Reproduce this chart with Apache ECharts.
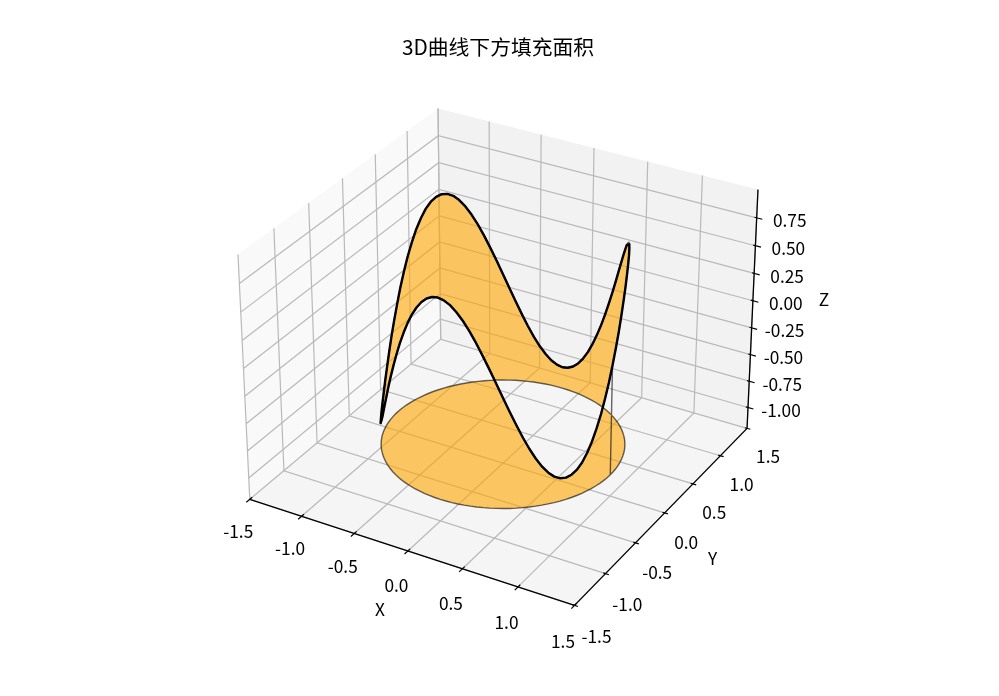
<!DOCTYPE html>
<html>
<head>
<meta charset="utf-8">
<style>html,body{margin:0;padding:0;background:#fff}#c{width:999px;height:696px}</style>
<script src="https://cdn.jsdelivr.net/npm/echarts@6/dist/echarts.min.js"></script>
</head>
<body>
<div id="c"></div>
<script>
const titleText = '3D曲线下方填充面积';
const xTicks = [-1.5,-1.0,-0.5,0.0,0.5,1.0,1.5];
const yTicks = [-1.5,-1.0,-0.5,0.0,0.5,1.0,1.5];
const zTicks = [-1.0,-0.75,-0.5,-0.25,0.0,0.25,0.5,0.75];
const xLim = [-1.5,1.5];
const yLim = [-1.5,1.5];
const zLim = [-1.2,1.0];
const floorZ = -1;
const curveX = [1,.999,.995,.988,.978,.966,.951,.934,.914,.891,.866,.839,.809,.777,.743,.707,.669,.629,.588,.545,.5,.454,.407,.358,.309,.259,.208,.156,.105,.052,0,
-.052,-.105,-.156,-.208,-.259,-.309,-.358,-.407,-.454,-.5,-.545,-.588,-.629,-.669,-.707,-.743,-.777,-.809,-.839,-.866,-.891,-.914,-.934,-.951,-.966,-.978,-.988,-.995,-.999,-1,
-.999,-.995,-.988,-.978,-.966,-.951,-.934,-.914,-.891,-.866,-.839,-.809,-.777,-.743,-.707,-.669,-.629,-.588,-.545,-.5,-.454,-.407,-.358,-.309,-.259,-.208,-.156,-.105,-.052,0,
.052,.105,.156,.208,.259,.309,.358,.407,.454,.5,.545,.588,.629,.669,.707,.743,.777,.809,.839,.866,.891,.914,.934,.951,.966,.978,.988,.995,.999,1];
const curveY = [0,.052,.105,.156,.208,.259,.309,.358,.407,.454,.5,.545,.588,.629,.669,.707,.743,.777,.809,.839,.866,.891,.914,.934,.951,.966,.978,.988,.995,.999,1,
.999,.995,.988,.978,.966,.951,.934,.914,.891,.866,.839,.809,.777,.743,.707,.669,.629,.588,.545,.5,.454,.407,.358,.309,.259,.208,.156,.105,.052,0,
-.052,-.105,-.156,-.208,-.259,-.309,-.358,-.407,-.454,-.5,-.545,-.588,-.629,-.669,-.707,-.743,-.777,-.809,-.839,-.866,-.891,-.914,-.934,-.951,-.966,-.978,-.988,-.995,-.999,-1,
-.999,-.995,-.988,-.978,-.966,-.951,-.934,-.914,-.891,-.866,-.839,-.809,-.777,-.743,-.707,-.669,-.629,-.588,-.545,-.5,-.454,-.407,-.358,-.309,-.259,-.208,-.156,-.105,-.052,0];
const curveZ = [0,.125,.247,.363,.47,.566,.647,.713,.761,.79,.8,.79,.761,.713,.647,.566,.47,.363,.247,.125,0,-.125,-.247,-.363,-.47,-.566,-.647,-.713,-.761,-.79,-.8,-.79,-.761,-.713,-.647,-.566,-.47,-.363,-.247,-.125,
0,.125,.247,.363,.47,.566,.647,.713,.761,.79,.8,.79,.761,.713,.647,.566,.47,.363,.247,.125,0,-.125,-.247,-.363,-.47,-.566,-.647,-.713,-.761,-.79,-.8,-.79,-.761,-.713,-.647,-.566,-.47,-.363,-.247,-.125,
0,.125,.247,.363,.47,.566,.647,.713,.761,.79,.8,.79,.761,.713,.647,.566,.47,.363,.247,.125,0,-.125,-.247,-.363,-.47,-.566,-.647,-.713,-.761,-.79,-.8,-.79,-.761,-.713,-.647,-.566,-.47,-.363,-.247,-.125,0];

// 3D view: elevation 30, azimuth -60, box 4:4:3, eye distance 10
const box = [1.1905,1.1905,0.8929], dist = 10;
const U = [0.866025,0.5,0], V = [-0.25,0.433013,0.866025], W = [0.433013,-0.75,0.5];
const dot = (a,b)=>a[0]*b[0]+a[1]*b[1]+a[2]*b[2];
function project(x,y,z){
  const q = [
    ((x-xLim[0])/(xLim[1]-xLim[0])-0.5)*box[0],
    ((y-yLim[0])/(yLim[1]-yLim[0])-0.5)*box[1],
    ((z-zLim[0])/(zLim[1]-zLim[0])-0.5)*box[2]
  ];
  const d = dist - dot(W,q);
  return [dot(U,q)/d, dot(V,q)/d];
}
const P = (x,y,z)=>project(x,y,z);

// view window of the flat axes
const scale = 3125, cx = 503, cy = 345, W_PX = 999, H_PX = 696;
const uMin = -cx/scale, uMax = (W_PX-cx)/scale, vMin = -(H_PX-cy)/scale, vMax = cy/scale;

const x0=xLim[0],x1=xLim[1],y0=yLim[0],y1=yLim[1],z0=zLim[0],z1=zLim[1];

const panes = [
  {pts:[P(x0,y0,z0),P(x0,y1,z0),P(x0,y1,z1),P(x0,y0,z1)], color:'#f9f9f9'},
  {pts:[P(x0,y1,z0),P(x1,y1,z0),P(x1,y1,z1),P(x0,y1,z1)], color:'#f2f2f2'},
  {pts:[P(x0,y0,z0),P(x1,y0,z0),P(x1,y1,z0),P(x0,y1,z0)], color:'#f5f5f5'}
];
const gridPaths = [
  ...xTicks.map(t=>[P(t,y0,z0),P(t,y1,z0),P(t,y1,z1)]),
  ...yTicks.map(t=>[P(x1,t,z0),P(x0,t,z0),P(x0,t,z1)]),
  ...zTicks.map(t=>[P(x1,y1,t),P(x0,y1,t),P(x0,y0,t)])
];
const axisPaths = [
  [P(x0,y0,z0),P(x1,y0,z0)],
  [P(x1,y0,z0),P(x1,y1,z0)],
  [P(x1,y1,z0),P(x1,y1,z1)]
];
const tickPaths = [
  ...xTicks.map(t=>[P(t,y0+0.035,z0),P(t,y0-0.05,z0)]),
  ...yTicks.map(t=>[P(x1-0.02,t,z0),P(x1+0.03,t,z0)]),
  ...zTicks.map(t=>[P(x1-0.02,y1,t),P(x1+0.05,y1,t)])
];
const fmt1 = t=>t.toFixed(1), fmt2 = t=>t.toFixed(2);
const labels = [
  ...xTicks.map((t,i)=>({p:P(t,y0,z0), s:fmt1(t), dx:-11.5, dy:32+4*i/6})),
  ...yTicks.map((t,i)=>({p:P(x1,t,z0), s:fmt1(t), dx:22-i/6, dy:31-3*i/6})),
  ...zTicks.map(t=>({p:P(x1,y1,t), s:fmt2(t), dx:33, dy:3})),
  {p:P(0,y0,z0), s:'X', dx:-28, dy:58},
  {p:P(x1,0,z0), s:'Y', dx:48, dy:46},
  {p:P(x1,y1,0), s:'Z', dx:71, dy:-1}
];

const curvePts = curveX.map((x,i)=>P(x,curveY[i],curveZ[i]));
const floorPts = curveX.map((x,i)=>P(x,curveY[i],floorZ)).reverse();
const ribbon = curvePts.concat(floorPts);

function pathSeries(name, paths, style, z, closed){
  return {
    type:'custom', name, coordinateSystem:'cartesian2d', silent:true, z, clip:false,
    data: paths.map((_,i)=>[0,0,i]),
    dimensions:['u','v','idx'],
    encode:{x:0,y:1},
    renderItem(params, api){
      const item = paths[api.value(2)];
      const pts = (item.pts||item).map(p=>api.coord(p));
      const st = Object.assign({}, style, item.color?{fill:item.color}:{});
      return {type: closed?'polygon':'polyline', shape:{points:pts}, style:st};
    }
  };
}

const chart = echarts.init(document.getElementById('c'), null, {renderer:'canvas'});
chart.setOption({
  animation:false,
  backgroundColor:'#ffffff',
  title:{text:titleText,left:493,top:32,textAlign:'center',
    textStyle:{fontFamily:'"Noto Sans CJK SC","Noto Sans",sans-serif',fontSize:20.8,fontWeight:'normal',color:'#000'}},
  grid:{left:0,top:0,width:W_PX,height:H_PX,containLabel:false},
  xAxis:{type:'value',min:uMin,max:uMax,show:false},
  yAxis:{type:'value',min:vMin,max:vMax,show:false},
  series:[
    pathSeries('panes',panes,{stroke:'none',fill:'#f5f5f5'},1,true),
    pathSeries('grid',gridPaths,{stroke:'#b9b9b9',lineWidth:1.2,fill:'none'},2,false),
    pathSeries('axes',axisPaths,{stroke:'#000',lineWidth:1.3,fill:'none'},3,false),
    pathSeries('ticks',tickPaths,{stroke:'#000',lineWidth:1.2,fill:'none'},3,false),
    pathSeries('ribbon',[ribbon],{fill:'rgba(255,165,0,0.6)',stroke:'rgba(0,0,0,0.6)',lineWidth:1.4},4,true),
    {type:'line',name:'curve',data:curvePts,showSymbol:false,symbol:'none',clip:false,silent:true,z:5,
      lineStyle:{color:'#000',width:2.4,join:'round'}},
    {type:'custom',name:'labels',coordinateSystem:'cartesian2d',silent:true,z:6,clip:false,
      data:labels.map((_,i)=>[0,0,i]),
      dimensions:['u','v','idx'],
      encode:{x:0,y:1},
      renderItem(params,api){
        const l = labels[api.value(2)];
        const c = api.coord(l.p);
        return {type:'text',x:c[0]+l.dx,y:c[1]+l.dy,
          style:{text:l.s,fill:'#000',align:'center',verticalAlign:'middle',
            font:'17.3px "Noto Sans CJK SC","Noto Sans",sans-serif'}};
      }}
  ]
});
</script>
</body>
</html>
